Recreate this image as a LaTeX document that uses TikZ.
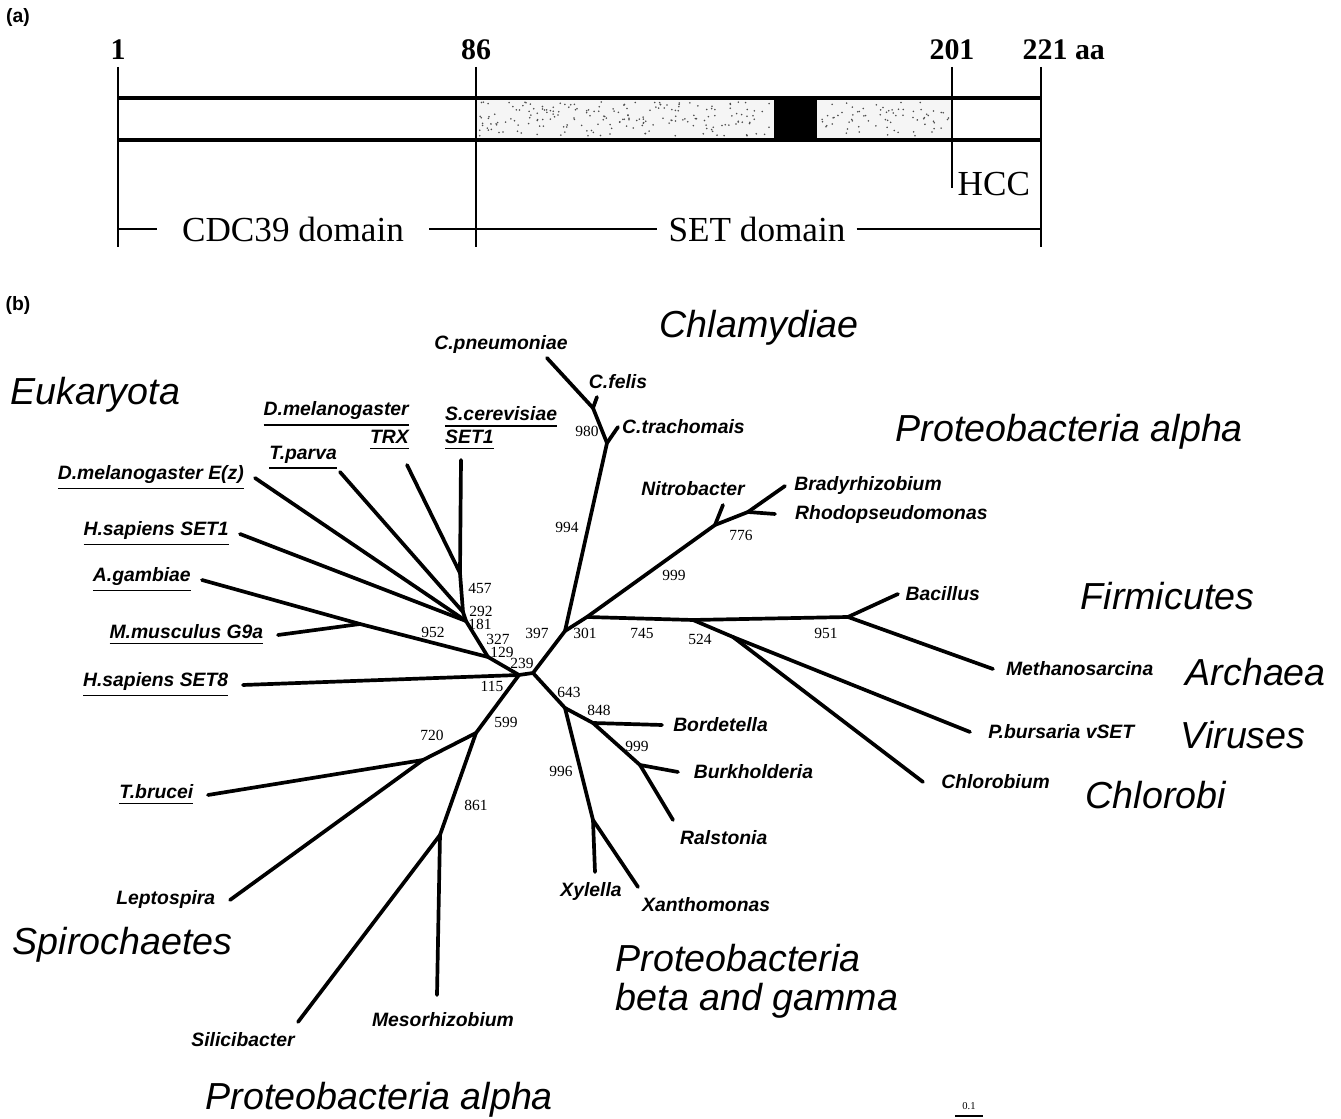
\documentclass[tikz,border=0pt]{standalone}
\usepackage{fontspec}
\setmainfont{Liberation Serif}
\setsansfont{Liberation Sans}
\usetikzlibrary{positioning}

\tikzset{
  branch/.style={line width=1.05pt, line cap=round},
  boot/.style={font=\fontsize{4.4}{5}\selectfont, inner sep=0pt},
  taxon/.style={font=\sffamily\bfseries\itshape\fontsize{5.5}{6.5}\selectfont, inner sep=1pt},
  cladename/.style={font=\sffamily\itshape\fontsize{10.7}{11}\selectfont, inner sep=0pt, anchor=west},
  ruler/.style={line width=0.5pt},
  aanum/.style={font=\bfseries\fontsize{8.5}{10}\selectfont, inner sep=0pt},
  domtext/.style={font=\fontsize{10}{12}\selectfont, inner sep=0pt},
  panel/.style={font=\sffamily\bfseries\fontsize{5.5}{6.5}\selectfont, inner sep=0pt}
}

\begin{document}
\begin{tikzpicture}[x=0.01cm, y=-0.01cm]
   \useasboundingbox (0,0) rectangle (1341,1119);
   % (a) domain map
   \node[panel] (pa) at (18,18) {(a)};
   \node[aanum] (n1) at (118,50) {1};
   \node[aanum] (n86) at (476,50) {86};
   \node[aanum] (n201) at (952,50) {201};
   \node[aanum, anchor=west] (n221) at (1022,50) {221 aa};
   \coordinate (t1) at (118,67);
   \coordinate (t86) at (476,67);
   \coordinate (t201) at (952,67);
   \coordinate (t221) at (1041,67);
   \coordinate (b1) at (118,247);
   \coordinate (b86) at (476,247);
   \coordinate (b201) at (952,188);
   \coordinate (b221) at (1041,247);
   \fill[black!4] (476,98) rectangle (774,140) (817,98) rectangle (952,140);
   \pgfmathsetseed{11}
   \foreach \i in {1,...,200}
      \fill[black!70] ({478+rnd*294},{102+rnd*34}) circle (0.25pt);
   \foreach \i in {1,...,70}
      \fill[black!70] ({819+rnd*131},{102+rnd*34}) circle (0.25pt);
   \fill (774,98) rectangle (817,140);
   \draw[line width=1pt] (t1 |- 0,98) -- (t221 |- 0,98) (t1 |- 0,140) -- (t221 |- 0,140);
   \draw[ruler] (t1) -- (b1) (t86) -- (b86) (t201) -- (b201) (t221) -- (b221);
   \node[domtext, anchor=west] (hcc) at (957,184) {HCC};
   \node[domtext, inner xsep=7pt] (cdc) at (293,229) {CDC39 domain};
   \node[domtext, inner xsep=3pt] (setd) at (757,229) {SET domain};
   \draw[ruler] (b1 |- cdc) -- (cdc.west) (cdc.east) -- (setd.west) (setd.east) -- (b221 |- setd);

   % (b) tree
   \node[panel] (pb) at (18,306) {(b)};
   % inner nodes
   \coordinate (root) at (519,675);
   \coordinate (mid) at (533,673);
   \coordinate (e457) at (460,573);
   \coordinate (e292) at (463,612);
   \coordinate (e181) at (466,621);
   \coordinate (e129) at (488,657);
   \coordinate (g9a) at (360,624);
   \coordinate (s599) at (476,733);
   \coordinate (s720) at (423,760);
   \coordinate (s861) at (440,835);
   \coordinate (p301) at (565,631);
   \coordinate (p745) at (587,617);
   \coordinate (ch980) at (607,443);
   \coordinate (chfel) at (593,408);
   \coordinate (nit) at (715,525);
   \coordinate (n776) at (748,512);
   \coordinate (f524) at (693,620);
   \coordinate (f951) at (848,617);
   \coordinate (vir) at (733,637);
   \coordinate (b643) at (565,708);
   \coordinate (b848) at (593,723);
   \coordinate (b999) at (640,765);
   \coordinate (xan) at (593,820);
   % leaf ends
   \coordinate (l-cpn) at (547,358);
   \coordinate (l-cfe) at (597,397);
   \coordinate (l-ctr) at (618,427);
   \coordinate (l-nit) at (723,505);
   \coordinate (l-bra) at (785,486);
   \coordinate (l-rho) at (775,514);
   \coordinate (l-bac) at (898,594);
   \coordinate (l-met) at (993,669);
   \coordinate (l-pbu) at (970,732);
   \coordinate (l-chl) at (923,782);
   \coordinate (l-bor) at (662,725);
   \coordinate (l-bur) at (678,772);
   \coordinate (l-ral) at (673,820);
   \coordinate (l-xyl) at (595,872);
   \coordinate (l-xan) at (638,887);
   \coordinate (l-mes) at (437,995);
   \coordinate (l-sil) at (298,1022);
   \coordinate (l-lep) at (230,900);
   \coordinate (l-tbr) at (208,795);
   \coordinate (l-set8) at (243,685);
   \coordinate (l-mmu) at (278,635);
   \coordinate (l-aga) at (202,580);
   \coordinate (l-set1) at (240,534);
   \coordinate (l-ez) at (255,478);
   \coordinate (l-tpa) at (340,472);
   \coordinate (l-trx) at (407,465);
   \coordinate (l-sce) at (461,460);

   \path[branch]
   (root) edge (mid) edge (l-set8) edge (e129) edge (s599)
   (e129) edge (e181) edge (g9a)
   (g9a) edge (l-aga) edge (l-mmu)
   (e181) edge (l-set1) edge (l-ez) edge (e292)
   (e292) edge (l-tpa) edge (e457)
   (e457) edge (l-trx) edge (l-sce)
   (s599) edge (s720) edge (s861)
   (s720) edge (l-tbr) edge (l-lep)
   (s861) edge (l-mes) edge (l-sil)
   (mid) edge (p301) edge (b643)
   (p301) edge (ch980) edge (p745)
   (ch980) edge (l-ctr) edge (chfel)
   (chfel) edge (l-cfe) edge (l-cpn)
   (p745) edge (nit) edge (f524)
   (nit) edge (l-nit) edge (n776)
   (n776) edge (l-bra) edge (l-rho)
   (f524) edge (f951) edge (vir)
   (f951) edge (l-bac) edge (l-met)
   (vir) edge (l-pbu) edge (l-chl)
   (b643) edge (b848) edge (xan)
   (b848) edge (l-bor) edge (b999)
   (b999) edge (l-bur) edge (l-ral)
   (xan) edge (l-xyl) edge (l-xan);

   % taxa
   \node[taxon] (t-cpn) at (501,345) {C.pneumoniae};
   \node[taxon] (t-cfe) at (618,382) {C.felis};
   \node[taxon, right=0pt of l-ctr] (t-ctr) {C.trachomais};
   \node[taxon] (t-nit) at (693,489) {Nitrobacter};
   \node[taxon, right=1.5pt of l-bra] (t-bra) {Bradyrhizobium};
   \node[taxon, anchor=west] (t-rho) at (791,515) {Rhodopseudomonas};
   \node[taxon, right=1pt of l-bac] (t-bac) {Bacillus};
   \node[taxon, right=2.5pt of l-met] (t-met) {Methanosarcina};
   \node[taxon, right=4pt of l-pbu] (t-pbu) {P.bursaria vSET};
   \node[taxon, right=4pt of l-chl] (t-chl) {Chlorobium};
   \node[taxon, right=2pt of l-bor] (t-bor) {Bordetella};
   \node[taxon, right=3.3pt of l-bur] (t-bur) {Burkholderia};
   \node[taxon, anchor=west] (t-ral) at (676,838) {Ralstonia};
   \node[taxon] (t-xyl) at (591,892) {Xylella};
   \node[taxon, anchor=west] (t-xan) at (638,905) {Xanthomonas};
   \node[taxon] (t-mes) at (443,1020) {Mesorhizobium};
   \node[taxon] (t-sil) at (243,1040) {Silicibacter};
   \node[taxon, left=3pt of l-lep] (t-lep) {Leptospira};
   \node[taxon, left=3pt of l-tbr] (t-tbr) {\underline{T.brucei}};
   \node[taxon, left=3pt of l-set8] (t-set8) {\underline{H.sapiens SET8}};
   \node[taxon, left=3pt of l-mmu] (t-mmu) {\underline{M.musculus G9a}};
   \node[taxon, left=2pt of l-aga] (t-aga) {\underline{A.gambiae}};
   \node[taxon, left=2pt of l-set1] (t-set1) {\underline{H.sapiens SET1}};
   \node[taxon, left=2pt of l-ez] (t-ez) {\underline{D.melanogaster E(z)}};
   \node[taxon, anchor=east] (t-tpa) at (341,458) {\underline{T.parva}};
   \node[taxon, align=right, anchor=south east] (t-trx) at (413,455) {\underline{D.melanogaster}\\\underline{TRX}};
   \node[taxon, align=left, anchor=south west] (t-sce) at (441,455) {\underline{S.cerevisiae}\\\underline{SET1}};

   % bootstrap values
   \node[boot] (v980) at (587,431) {980};
   \node[boot] (v994) at (567,527) {994};
   \node[boot] (v397) at (537,633) {397};
   \node[boot] (v301) at (585,633) {301};
   \node[boot] (v457) at (480,588) {457};
   \node[boot] (v292) at (481,611) {292};
   \node[boot] (v181) at (480,624) {181};
   \node[boot] (v327) at (498,639) {327};
   \node[boot] (v129) at (502,652) {129};
   \node[boot] (v239) at (522,663) {239};
   \node[boot] (v115) at (492,686) {115};
   \node[boot] (v952) at (433,632) {952};
   \node[boot] (v643) at (569,692) {643};
   \node[boot] (v848) at (599,710) {848};
   \node[boot] (v999b) at (637,746) {999};
   \node[boot] (v996) at (561,771) {996};
   \node[boot] (v599) at (506,722) {599};
   \node[boot] (v720) at (432,735) {720};
   \node[boot] (v861) at (476,805) {861};
   \node[boot] (v776) at (741,535) {776};
   \node[boot] (v999a) at (674,575) {999};
   \node[boot] (v745) at (642,633) {745};
   \node[boot] (v524) at (700,639) {524};
   \node[boot] (v951) at (826,633) {951};

   % groups
   \node[cladename, anchor=center] (g-chla) at (759,328) {Chlamydiae};
   \node[cladename] (g-euk) at (10,395) {Eukaryota};
   \node[cladename] (g-pa1) at (895,432) {Proteobacteria alpha};
   \node[cladename] (g-fir) at (1080,596) {Firmicutes};
   \node[cladename] (g-arc) at (1185,672) {Archaea};
   \node[cladename] (g-vir) at (1180,735) {Viruses};
   \node[cladename] (g-chl) at (1085,795) {Chlorobi};
   \node[cladename] (g-spi) at (12,945) {Spirochaetes};
   \node[cladename, align=left, anchor=north west] (g-pbg) at (615,944) {Proteobacteria\\beta and gamma};
   \node[cladename] (g-pa2) at (205,1100) {Proteobacteria alpha};

   % scale bar
   \coordinate (sb1) at (955,1116);
   \coordinate (sb2) at (983,1116);
   \draw[ruler] (sb1) -- (sb2);
   \node[boot, font=\fontsize{3}{3.5}\selectfont, anchor=south] (sbl) at (969,1110) {0.1};
\end{tikzpicture}
\end{document}
